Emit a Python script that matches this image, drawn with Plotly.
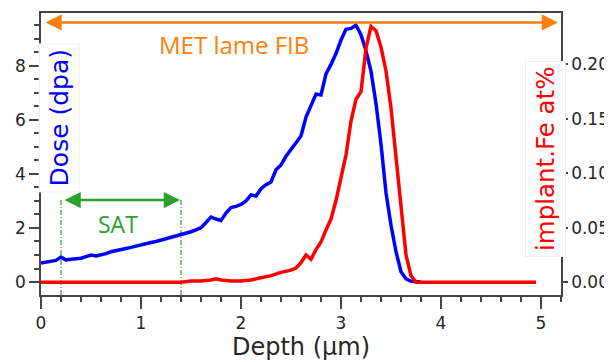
import plotly.graph_objects as go

# ---------------- data ----------------
depth_dose = [0.00, 0.05, 0.10, 0.15, 0.20, 0.25, 0.30, 0.35, 0.40, 0.45,
              0.50, 0.55, 0.60, 0.65, 0.70, 0.75, 0.80, 0.85, 0.90, 0.95,
              1.00, 1.05, 1.10, 1.15, 1.20, 1.25, 1.30, 1.35, 1.40, 1.45,
              1.50, 1.55, 1.60, 1.65, 1.70, 1.75, 1.80, 1.85, 1.90, 1.95,
              2.00, 2.05, 2.10, 2.15, 2.20, 2.25, 2.30, 2.35, 2.40, 2.45,
              2.50, 2.55, 2.60, 2.65, 2.70, 2.75, 2.80, 2.85, 2.90, 2.95,
              3.00, 3.05, 3.10, 3.15, 3.20, 3.25, 3.30, 3.35, 3.40, 3.45,
              3.50, 3.55, 3.60, 3.65, 3.70, 3.75, 3.80]
dose = [0.70, 0.74, 0.77, 0.80, 0.92, 0.82, 0.84, 0.86, 0.88, 0.94,
        1.00, 0.96, 1.00, 1.05, 1.12, 1.17, 1.21, 1.24, 1.28, 1.33,
        1.39, 1.42, 1.46, 1.50, 1.55, 1.60, 1.64, 1.68, 1.74, 1.79,
        1.86, 1.93, 2.01, 2.20, 2.40, 2.33, 2.28, 2.55, 2.75, 2.80,
        2.87, 3.00, 3.22, 3.18, 3.45, 3.60, 3.70, 4.15, 4.33, 4.65,
        4.90, 5.15, 5.40, 6.10, 6.55, 6.95, 6.92, 7.70, 8.05, 8.45,
        8.95, 9.35, 9.38, 9.50, 9.15, 8.55, 7.80, 6.60, 5.10, 3.30,
        2.10, 1.12, 0.38, 0.12, 0.03, 0.00, 0.00]

depth_fe = [0.00, 0.20, 0.40, 0.60, 0.80, 1.00, 1.20, 1.40, 1.50, 1.60,
            1.70, 1.75, 1.80, 1.90, 2.00, 2.10, 2.20, 2.30, 2.40, 2.45,
            2.50, 2.55, 2.60, 2.65, 2.70, 2.75, 2.80, 2.85, 2.90, 2.95,
            3.00, 3.05, 3.10, 3.15, 3.20, 3.25, 3.30, 3.35, 3.40, 3.45,
            3.50, 3.55, 3.60, 3.65, 3.70, 3.75, 3.80, 4.00, 4.50, 4.95]
fe = [0.000, 0.000, 0.000, 0.000, 0.000, 0.000, 0.000, 0.000, 0.001, 0.001,
      0.002, 0.003, 0.002, 0.001, 0.001, 0.002, 0.004, 0.006, 0.009, 0.010,
      0.011, 0.013, 0.018, 0.025, 0.021, 0.030, 0.037, 0.048, 0.058, 0.075,
      0.096, 0.117, 0.148, 0.168, 0.175, 0.215, 0.235, 0.231, 0.216, 0.194,
      0.160, 0.115, 0.065, 0.025, 0.006, 0.000, 0.000, 0.000, 0.000, 0.000]

x_ticks = [0, 1, 2, 3, 4, 5]
dose_ticks = [0, 2, 4, 6, 8]
fe_ticks = [0.00, 0.05, 0.10, 0.15, 0.20]

fib_span = [0.03, 5.17]   # MET lame FIB arrow extent (µm)
fib_level = 9.6            # dpa
sat_span = [0.2, 1.4]     # SAT region (µm)
sat_arrow = [0.22, 1.39]
sat_level = 3.03           # dpa

x_range = [0, 5.2]
dose_range = [-0.48, 9.95]
fe_range = [-0.0118, 0.2473]

BLUE = "#0000ff"
RED = "#ff0000"
GREEN = "#2ca02c"
ORANGE = "#ff7f0e"
AX = "#444444"
TXT = "#262626"

fig = go.Figure()

# SAT dash-dot boundaries
for xv in sat_span:
    fig.add_trace(go.Scatter(x=[xv, xv], y=[dose_range[0], sat_level], mode="lines",
                             line=dict(color=GREEN, width=1.2, dash="5px,2px,1px,2px"),
                             hoverinfo="skip", showlegend=False))

fig.add_trace(go.Scatter(x=depth_dose, y=dose, mode="lines",
                         line=dict(color=BLUE, width=3.5), showlegend=False))
fig.add_trace(go.Scatter(x=depth_fe, y=fe, mode="lines", yaxis="y2",
                         line=dict(color=RED, width=3.5), showlegend=False))

annotations = [
    # MET lame FIB double arrow
    dict(x=fib_span[1], y=fib_level, ax=fib_span[0], ay=fib_level,
         xref="x", yref="y", axref="x", ayref="y", text="", showarrow=True,
         arrowhead=2, arrowside="end+start", arrowsize=1.3, arrowwidth=2.5,
         arrowcolor=ORANGE, standoff=0, startstandoff=0),
    dict(x=1.93, y=8.78, xref="x", yref="y", text="MET lame FIB", showarrow=False,
         font=dict(family="Open Sans", size=24, color=ORANGE)),
    # SAT double arrow
    dict(x=sat_arrow[1], y=sat_level, ax=sat_arrow[0], ay=sat_level,
         xref="x", yref="y", axref="x", ayref="y", text="", showarrow=True,
         arrowhead=2, arrowside="end+start", arrowsize=1.3, arrowwidth=2.5,
         arrowcolor=GREEN, standoff=0, startstandoff=0),
    dict(x=0.77, y=2.13, xref="x", yref="y", text="SAT", showarrow=False,
         font=dict(family="Open Sans", size=23, color=GREEN)),
    # axis labels inside the plot
    dict(x=0.185, y=6.07, xref="x", yref="y", text="Dose (dpa)", showarrow=False,
         textangle=-90, font=dict(family="DejaVu Sans", size=25, color=BLUE),
         bgcolor="white", bordercolor="#f0f0f0", borderwidth=1, borderpad=5),
    dict(x=5.04, y=4.55, xref="x", yref="y", text="implant.Fe at%", showarrow=False,
         textangle=-90, font=dict(family="DejaVu Sans", size=24.5, color=RED),
         bgcolor="white", bordercolor="#f0f0f0", borderwidth=1, borderpad=5),
]

# page body has an 8px margin: figure is 604x354 placed at (8, 8)
fig.update_layout(
    width=604, height=354,
    margin=dict(l=33, r=51, t=5, b=67, autoexpand=False),
    paper_bgcolor="white", plot_bgcolor="white",
    showlegend=False,
    font=dict(family="DejaVu Sans", size=17, color=TXT),
    annotations=annotations,
    xaxis=dict(range=x_range, tickvals=x_ticks, ticktext=[str(v) for v in x_ticks],
               automargin=False,
               showgrid=False, zeroline=False, showline=True, mirror=True,
               linecolor=AX, linewidth=1.5, ticks="outside", ticklen=12, tickwidth=2,
               tickcolor=AX, tickfont=dict(size=17, color=TXT),
               minor=dict(dtick=0.2, tick0=0, ticks="outside", ticklen=5, tickwidth=1.5,
                          tickcolor=AX),
               title=dict(text="Depth (µm)", font=dict(family="DejaVu Sans", size=24, color=TXT),
                          standoff=6)),
    yaxis=dict(range=dose_range, tickvals=dose_ticks, ticktext=[str(v) for v in dose_ticks],
               automargin=False,
               showgrid=False, zeroline=False, showline=True, mirror=True,
               linecolor=AX, linewidth=1.5, ticks="outside", ticklen=10, tickwidth=2,
               tickcolor=AX, tickfont=dict(size=17, color=TXT),
               minor=dict(dtick=0.5, tick0=0, ticks="outside", ticklen=5, tickwidth=1.5,
                          tickcolor=AX)),
    yaxis2=dict(range=fe_range, tickvals=fe_ticks, ticktext=[f"{v:.2f}" for v in fe_ticks],
                automargin=False,
                overlaying="y", side="right", showgrid=False, zeroline=False,
                showline=True, linecolor=AX, linewidth=1.5, ticks="outside", ticklen=5,
                tickwidth=1.5, tickcolor=AX, tickfont=dict(size=17, color=TXT)),
)

fig.write_html("out.html")
